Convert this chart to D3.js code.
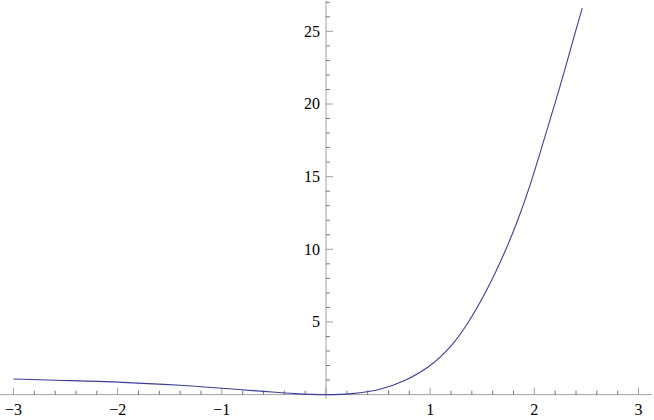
<!DOCTYPE html>
<html><head><meta charset="utf-8">
<script src="https://cdn.jsdelivr.net/npm/d3@7"></script>
<style>
html,body{margin:0;padding:0;background:#fff;}
svg{display:block;}
</style></head>
<body>
<svg id="chart" width="654" height="420"></svg>
<script>
// curve samples
const xValues = [-3, -2.6, -2, -1.4, -1, -0.6, -0.3, 0, 0.25, 0.5, 0.75, 1.0, 1.2, 1.363, 1.55, 1.718, 1.84, 1.958, 2.1, 2.25, 2.4, 2.46];
const yValues = [1.07, 0.99, 0.86, 0.64, 0.44, 0.22, 0.07, 0, 0.07, 0.33, 0.95, 2.0, 3.35, 4.95, 7.3, 9.85, 12.0, 14.4, 17.7, 21.3, 25.1, 26.6];
const xTickLabels = [-3, -2, -1, 1, 2, 3];
const yTickLabels = [5, 10, 15, 20, 25];
const xMinorTicks = d3.range(-30, 31, 2).map(d => d / 10);
const yMinorTicks = d3.range(0, 28, 1);

const svg = d3.select("#chart");
const x = d3.scaleLinear().domain([-3.12, 3.12]).range([1, 651]);
const y = d3.scaleLinear().domain([0, 27]).range([394.6, 2.3]);

const x0 = x(0), y0 = y(0);
const axisColor = "#a0a0a0", tickColor = "#555";
const font = "'Liberation Serif', Tinos, 'Times New Roman', Times, 'DejaVu Serif', serif";

svg.append("line").attr("x1", 0).attr("x2", 652).attr("y1", y0).attr("y2", y0)
  .attr("stroke", axisColor).attr("stroke-width", 1);
svg.append("line").attr("x1", x0).attr("x2", x0).attr("y1", y(-0.3)).attr("y2", y(27.1))
  .attr("stroke", axisColor).attr("stroke-width", 1);

const isInt = d => Math.abs(d - Math.round(d)) < 1e-6;
svg.append("g").selectAll("line").data(xMinorTicks).join("line")
  .attr("x1", d => x(d)).attr("x2", d => x(d))
  .attr("y1", y0).attr("y2", d => y0 - (isInt(d) ? 7 : 4))
  .attr("stroke", d => isInt(d) ? "#888" : tickColor).attr("stroke-width", 0.8);
svg.append("g").selectAll("line").data(yMinorTicks).join("line")
  .attr("y1", d => y(d)).attr("y2", d => y(d))
  .attr("x1", x0).attr("x2", d => x0 + (d % 5 === 0 ? 7 : 4))
  .attr("stroke", d => d % 5 === 0 ? "#888" : tickColor).attr("stroke-width", 0.8);

const fmt = d => d < 0 ? "\u2212" + Math.abs(d) : String(d);
svg.append("g").selectAll("text").data(xTickLabels).join("text")
  .attr("x", d => x(d)).attr("y", 415).attr("text-anchor", "middle")
  .attr("font-family", font).attr("font-size", 16).attr("fill", "#000").text(fmt);
svg.append("g").selectAll("text").data(yTickLabels).join("text")
  .attr("x", x0 - 6).attr("y", d => y(d)).attr("dy", "0.34em").attr("text-anchor", "end")
  .attr("font-family", font).attr("font-size", 16).attr("fill", "#000").text(fmt);

const pts = xValues.map((v, i) => [v, yValues[i]]);
const line = d3.line().x(d => x(d[0])).y(d => y(d[1])).curve(d3.curveCatmullRom.alpha(0.5));
svg.append("path").datum(pts).attr("d", line)
  .attr("fill", "none").attr("stroke", "#3d3d99").attr("stroke-width", 1.1);
</script>
</body></html>
